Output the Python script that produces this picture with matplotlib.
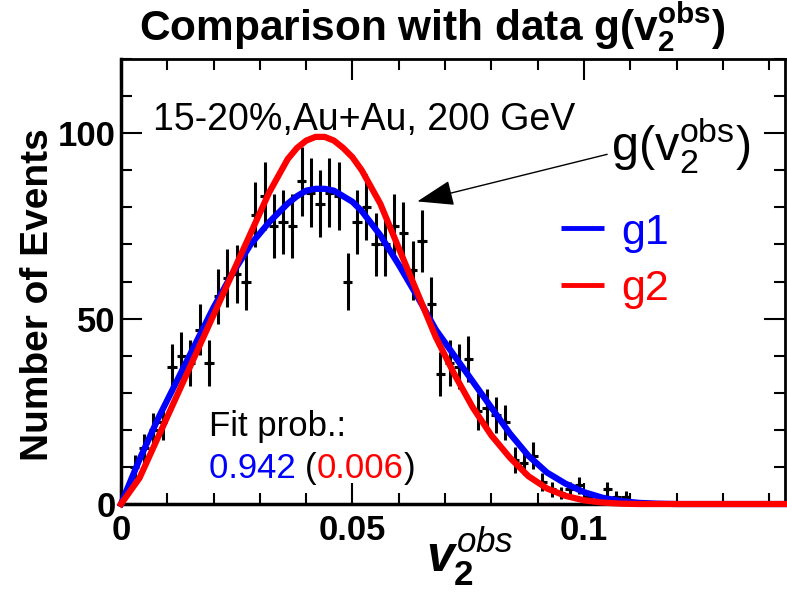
import numpy as np
import matplotlib
matplotlib.use('Agg')
import matplotlib.pyplot as plt
from matplotlib.ticker import MultipleLocator

plt.rcParams['font.family'] = ['Liberation Sans', 'DejaVu Sans']
plt.rcParams['mathtext.fontset'] = 'custom'
plt.rcParams['mathtext.rm'] = 'Liberation Sans'
plt.rcParams['mathtext.bf'] = 'Liberation Sans:bold'
plt.rcParams['mathtext.it'] = 'Liberation Sans:italic:bold'
plt.rcParams['mathtext.sf'] = 'Liberation Sans:italic'

# measured v2obs histogram (bin width 0.002)
bin_centers = np.arange(0.003, 0.110, 0.002)
counts = [10, 15, 20, 22, 37, 40, 38, 47, 38, 56, 61, 62, 60, 78, 83, 75, 76, 75,
          87, 84, 81, 84, 83, 60, 76, 80, 70, 70, 75, 73, 63, 71, 54, 35, 38, 37,
          39, 25, 26, 24, 22, 12, 11, 13, 6, 4, 3, 4, 5, 2, 1, 4, 2, 2]
errors = [3.2, 3.9, 4.5, 4.7, 6.1, 6.3, 6.2, 6.9, 6.2, 7.5, 7.8, 7.9, 7.7, 8.8, 9.1,
          8.7, 8.7, 8.7, 9.3, 9.2, 9.0, 9.2, 9.1, 7.7, 8.7, 8.9, 8.4, 8.4, 8.7, 8.5,
          7.9, 8.4, 7.3, 5.9, 6.2, 6.1, 6.2, 5.0, 5.1, 4.9, 4.7, 3.5, 3.3, 3.6, 2.4,
          2.0, 1.7, 2.0, 2.2, 1.4, 1.0, 2.0, 1.4, 1.4]

# fit curves
curve_x = [0.000, 0.004, 0.008, 0.012, 0.016, 0.020, 0.024, 0.028, 0.032, 0.036,
           0.038, 0.040, 0.042, 0.044, 0.046, 0.048, 0.050, 0.052, 0.056, 0.060,
           0.064, 0.068, 0.072, 0.076, 0.080, 0.084, 0.088, 0.092, 0.096, 0.100,
           0.104, 0.108, 0.112, 0.116, 0.120, 0.145]
g1 = [0, 12, 23, 33, 43, 53, 62, 70, 76, 81, 83, 84.5, 85, 85, 84.5, 83, 81.5, 79,
      72.5, 64.5, 56, 47, 40, 33, 26, 19, 13, 8.5, 5.5, 3.2, 1.7, 0.8, 0.3, 0.1, 0, 0]
g2 = [0, 7, 18, 29, 40, 51, 62, 73, 84, 93, 96, 98, 99, 99, 98, 96, 93.5, 90,
      81, 69, 57, 45, 35, 26, 18.5, 12.5, 7.5, 4.2, 2.2, 1.0, 0.4, 0.1, 0, 0, 0, 0]

fig = plt.figure(figsize=(7.87, 5.92), dpi=100)
ax = fig.add_axes([0.1537, 0.1486, 0.8443, 0.7517])

ax.errorbar(bin_centers, counts, yerr=errors, xerr=0.001, fmt='o', ms=2.5,
            color='black', elinewidth=2.2, capsize=0, zorder=2)
ax.plot(curve_x, g1, color='#0000ff', lw=4.5, label='g1', zorder=3, clip_on=False)
ax.plot(curve_x, g2, color='#ff0000', lw=4.5, label='g2', zorder=4, clip_on=False)

ax.set_xlim(0, 0.1435)
ax.set_ylim(0, 120)

ax.xaxis.set_major_locator(MultipleLocator(0.05))
ax.xaxis.set_minor_locator(MultipleLocator(0.01))
ax.yaxis.set_major_locator(MultipleLocator(50))
ax.yaxis.set_minor_locator(MultipleLocator(10))
ax.xaxis.set_major_formatter(plt.FuncFormatter(lambda v, p: '0' if v == 0 else '%g' % v))

ax.tick_params(which='both', direction='in', top=True, right=True, width=1.5,
               labelsize=25)
ax.tick_params(which='major', length=15)
ax.tick_params(which='minor', length=8)
for lab in ax.get_xticklabels() + ax.get_yticklabels():
    lab.set_fontweight('bold')
ax.tick_params(axis='x', pad=7)
ax.tick_params(axis='y', pad=4)

for s in ['left', 'bottom']:
    ax.spines[s].set_linewidth(2.5)
for s in ['top', 'right']:
    ax.spines[s].set_linewidth(2)

ax.set_ylabel('Number of Events', fontsize=28, fontweight='bold')
ax.yaxis.set_label_coords(-0.098, 0.47)
ax.set_xlabel(r'$\mathit{v}_\mathbf{2}^\mathsf{obs}$', fontsize=36)
ax.xaxis.set_label_coords(0.525, -0.048)
ax.xaxis.label.set_va('top')

fig.text(0.549, 0.955, r'Comparison with data g(v$_\mathbf{2}^\mathbf{obs}$)',
         fontsize=30.5, fontweight='bold', ha='center', va='center')

ax.text(0.007, 103.5, '15-20%,Au+Au, 200 GeV', fontsize=27, va='center')
ax.text(0.019, 21, 'Fit prob.:', fontsize=25, va='center')
t1 = ax.text(0.019, 9.6, '0.942 ', fontsize=25, va='center', color='#0000ff')
t2 = ax.annotate('(', xy=(1, 0), xycoords=t1, va='bottom', fontsize=25)
t3 = ax.annotate('0.006', xy=(1, 0), xycoords=t2, va='bottom', fontsize=25,
                 color='#ff0000')
ax.annotate(')', xy=(1, 0), xycoords=t3, va='bottom', fontsize=25)

ax.annotate('', xy=(0.064, 81.6), xytext=(0.105, 94.3),
            arrowprops=dict(arrowstyle='-|>,head_length=2.3,head_width=0.8',
                            mutation_scale=10, lw=1, color='black',
                            shrinkA=0, shrinkB=0))
ax.text(0.1058, 92.4, r'g(v$_\mathrm{2}^\mathrm{obs}$)', fontsize=35, va='baseline')

leg = ax.legend(loc='upper left', bbox_to_anchor=(0.662, 0.655), frameon=False,
                fontsize=31, handlelength=1.0, handletextpad=0.4, labelspacing=0.39,
                labelcolor='linecolor', borderpad=0, borderaxespad=0)
for ln in leg.get_lines():
    ln.set_linewidth(3.5)
    ln.set_solid_capstyle('butt')

plt.savefig('out.png', dpi=100)
